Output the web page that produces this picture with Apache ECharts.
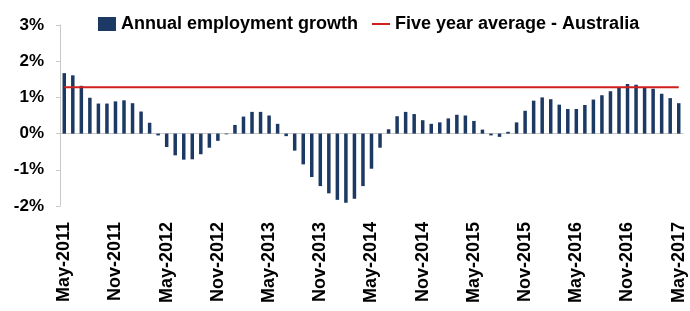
<!DOCTYPE html>
<html>
<head>
<meta charset="utf-8">
<script src="https://cdn.jsdelivr.net/npm/echarts@6/dist/echarts.min.js"></script>
<style>
  html, body { margin: 0; padding: 0; background: #fff; }
  #chart { width: 690px; height: 311px; }
</style>
</head>
<body>
<div id="chart"></div>
<script>
// monthly categories, May-2011 .. May-2017
var months = [
  'May-2011', 'Jun-2011', 'Jul-2011', 'Aug-2011', 'Sep-2011', 'Oct-2011', 'Nov-2011', 'Dec-2011',
  'Jan-2012', 'Feb-2012', 'Mar-2012', 'Apr-2012', 'May-2012', 'Jun-2012', 'Jul-2012', 'Aug-2012',
  'Sep-2012', 'Oct-2012', 'Nov-2012', 'Dec-2012', 'Jan-2013', 'Feb-2013', 'Mar-2013', 'Apr-2013',
  'May-2013', 'Jun-2013', 'Jul-2013', 'Aug-2013', 'Sep-2013', 'Oct-2013', 'Nov-2013', 'Dec-2013',
  'Jan-2014', 'Feb-2014', 'Mar-2014', 'Apr-2014', 'May-2014', 'Jun-2014', 'Jul-2014', 'Aug-2014',
  'Sep-2014', 'Oct-2014', 'Nov-2014', 'Dec-2014', 'Jan-2015', 'Feb-2015', 'Mar-2015', 'Apr-2015',
  'May-2015', 'Jun-2015', 'Jul-2015', 'Aug-2015', 'Sep-2015', 'Oct-2015', 'Nov-2015', 'Dec-2015',
  'Jan-2016', 'Feb-2016', 'Mar-2016', 'Apr-2016', 'May-2016', 'Jun-2016', 'Jul-2016', 'Aug-2016',
  'Sep-2016', 'Oct-2016', 'Nov-2016', 'Dec-2016', 'Jan-2017', 'Feb-2017', 'Mar-2017', 'Apr-2017',
  'May-2017'
];

// annual employment growth, %
var growth = [
  1.67, 1.61, 1.32, 0.99, 0.83, 0.83, 0.89, 0.92, 0.84, 0.61, 0.30, -0.05,
  -0.37, -0.60, -0.72, -0.71, -0.57, -0.39, -0.20, -0.02, 0.24, 0.47, 0.60, 0.60,
  0.50, 0.27, -0.07, -0.47, -0.85, -1.20, -1.45, -1.65, -1.83, -1.91, -1.80, -1.45,
  -0.97, -0.39, 0.12, 0.48, 0.60, 0.54, 0.37, 0.27, 0.31, 0.42, 0.52, 0.50,
  0.35, 0.11, -0.05, -0.09, 0.05, 0.31, 0.63, 0.91, 1.00, 0.95, 0.80, 0.68,
  0.68, 0.79, 0.94, 1.06, 1.17, 1.26, 1.37, 1.35, 1.26, 1.24, 1.10, 0.98, 0.84
];

// five year average - Australia, %
var fiveYearAvg = 1.28;

var yTicks = [-2, -1, 0, 1, 2, 3];

var font = "'Liberation Sans', Arial, sans-serif";
var chart = echarts.init(document.getElementById('chart'), null, { renderer: 'canvas' });

chart.setOption({
  animation: false,
  grid: { left: 60, right: 7, top: 25, bottom: 105 },
  legend: {
    left: 93,
    top: 10,
    itemWidth: 18,
    itemHeight: 14,
    itemGap: 14,
    textStyle: { fontFamily: font, fontWeight: 'bold', fontSize: 18, color: '#000' },
    data: [
      { name: 'Annual employment growth', icon: 'rect' },
      // thin line marker
      { name: 'Five year average - Australia', icon: 'path://M0,0 L18,0 L18,2 L0,2 Z' }
    ]
  },
  xAxis: [
    {
      // zero line with half-year ticks
      type: 'category',
      data: months,
      axisLine: { onZero: true, lineStyle: { color: '#c8c8c8', width: 1 } },
      axisTick: { interval: 5, length: 5, lineStyle: { color: '#c8c8c8' } },
      axisLabel: { show: false },
      splitLine: { show: false }
    },
    {
      // labels at the bottom
      type: 'category',
      data: months,
      position: 'bottom',
      axisLine: { show: false, onZero: false },
      axisTick: { show: false },
      axisLabel: {
        interval: 5,
        rotate: 90,
        margin: 16,
        fontFamily: font,
        fontWeight: 'bold',
        fontSize: 18,
        color: '#000'
      }
    }
  ],
  yAxis: {
    type: 'value',
    min: yTicks[0],
    max: yTicks[yTicks.length - 1],
    interval: 1,
    axisLine: { show: true, lineStyle: { color: '#c8c8c8' } },
    axisTick: { show: true, length: 4, lineStyle: { color: '#c8c8c8' } },
    splitLine: { show: false },
    axisLabel: {
      margin: 16,
      formatter: '{value}%',
      fontFamily: font,
      fontWeight: 'bold',
      fontSize: 17,
      color: '#000'
    }
  },
  series: [
    {
      name: 'Annual employment growth',
      type: 'bar',
      xAxisIndex: 0,
      data: growth,
      barWidth: 3.5,
      itemStyle: { color: '#1c3963' }
    },
    {
      name: 'Five year average - Australia',
      type: 'line',
      xAxisIndex: 0,
      data: [[months[0], fiveYearAvg], [months[months.length - 1], fiveYearAvg]],
      symbol: 'none',
      lineStyle: { color: '#d0201e', width: 2 },
      itemStyle: { color: '#d0201e' }
    }
  ]
});
</script>
</body>
</html>
